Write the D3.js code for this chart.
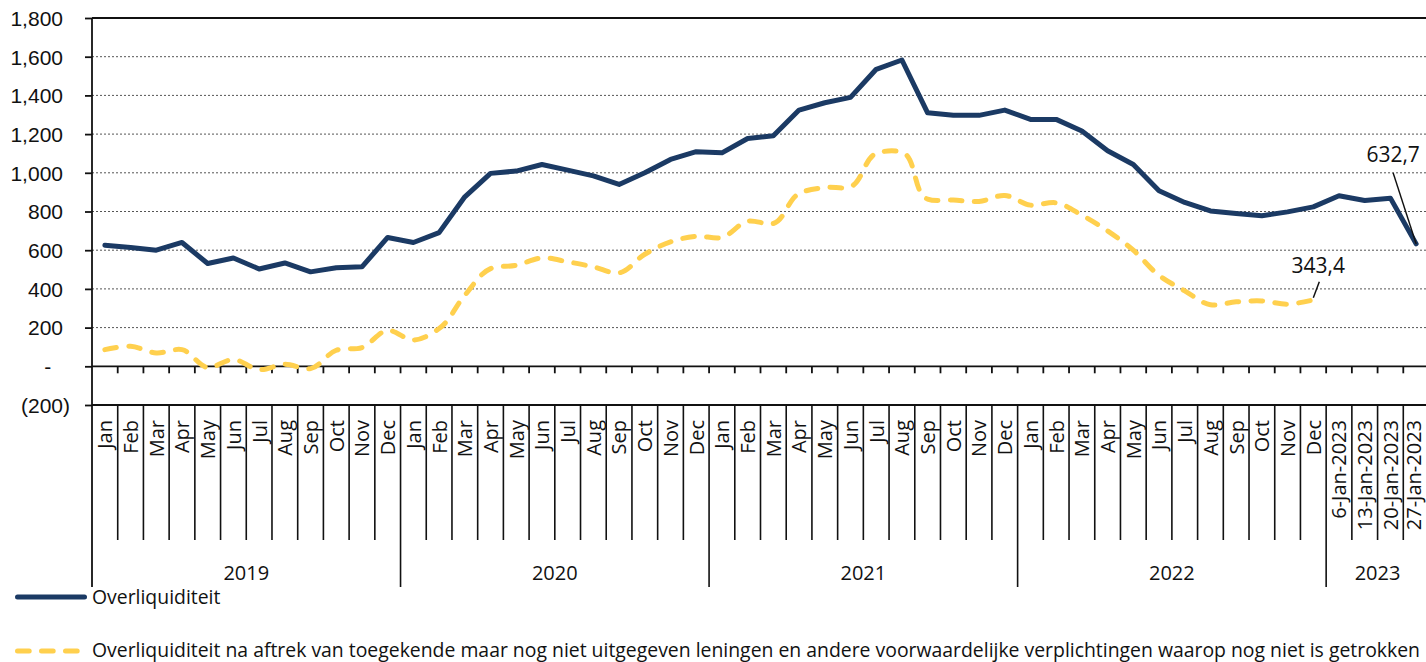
<!DOCTYPE html>
<html><head><meta charset="utf-8">
<script src="https://cdn.jsdelivr.net/npm/d3@7"></script>
<style>
body{margin:0;background:#fff;}
svg{display:block;font-family:"Open Sans",sans-serif;}
</style></head><body>
<svg id="c" width="1426" height="662"></svg>
<script>
// ---------- data ----------
const years = ["2019", "2020", "2021", "2022", "2023"];
const months = ["Jan","Feb","Mar","Apr","May","Jun","Jul","Aug","Sep","Oct","Nov","Dec"];
const weeks2023 = ["6-Jan-2023","13-Jan-2023","20-Jan-2023","27-Jan-2023"];
const seriesNames = [
  "Overliquiditeit",
  "Overliquiditeit na aftrek van toegekende maar nog niet uitgegeven leningen en andere voorwaardelijke verplichtingen waarop nog niet is getrokken"
];
// Overliquiditeit (monthly 2019-2022, weekly Jan 2023)
const overliq = [
  626, 614, 600, 640, 531, 560, 503, 534, 488, 509, 514, 666,
  640, 691, 876, 997, 1009, 1043, 1014, 984, 940, 1000, 1069, 1109,
  1103, 1177, 1191, 1324, 1362, 1390, 1535, 1583, 1310, 1297, 1297, 1324,
  1276, 1276, 1216, 1114, 1043, 907, 847, 803, 790, 778, 798, 824,
  881, 857, 869, 632.7
];
// Overliquiditeit na aftrek ... (monthly 2019-2022 only)
const overliqNet = [
  86, 103, 69, 86, -6, 35, -17, 10, -12, 83, 97, 186,
  136, 195, 367, 505, 522, 560, 540, 514, 483, 579, 643, 672,
  666, 750, 738, 893, 924, 928, 1100, 1107, 864, 859, 852, 883,
  833, 845, 781, 700, 600, 470, 390, 318, 333, 338, 321, 343.4,
  null, null, null, null
];
const yTicks = [-200, 0, 200, 400, 600, 800, 1000, 1200, 1400, 1600, 1800];
const annotations = [
  {series: 0, index: 51, text: "632,7"},
  {series: 1, index: 47, text: "343,4"}
];

// ---------- categories ----------
const cats = [];
years.forEach(yr => {
  const labs = yr === "2023" ? weeks2023 : months;
  labs.forEach(l => cats.push({year: yr, label: l, key: yr + "|" + l}));
});

const W = 1426, H = 662;
const svg = d3.select("#c");
svg.append("rect").attr("width", W).attr("height", H).attr("fill", "#fff");

const x = d3.scaleBand().domain(cats.map(d => d.key)).range([92, 1429]).padding(0);
const y = d3.scaleLinear().domain([-200, 1800]).range([405, 18]);
const bw = x.bandwidth();
const cx = i => x(cats[i].key) + bw / 2;

const BLUE = "#1b3a64", YELLOW = "#ffd04e";
const FS = 20;

// gridlines (dotted)
svg.append("g").selectAll("line")
  .data(yTicks.filter(v => v > 0 && v < 1800))
  .join("line")
  .attr("x1", 92).attr("x2", W).attr("y1", d => y(d)).attr("y2", d => y(d))
  .attr("stroke", "#555").attr("stroke-width", 1).attr("stroke-dasharray", "2,2");

// top border
svg.append("line").attr("x1", 92).attr("x2", W).attr("y1", y(1800)).attr("y2", y(1800))
  .attr("stroke", "#111").attr("stroke-width", 1.8);

// y axis
const fmt = d3.format(",");
const yAxis = d3.axisLeft(y).tickValues(yTicks).tickSize(7).tickPadding(3).tickFormat("");
const gy = svg.append("g").attr("transform", "translate(92,0)").call(yAxis);
gy.select(".domain").remove();
gy.selectAll(".tick line").attr("stroke", "#111").attr("stroke-width", 1.8);
gy.selectAll(".tick").each(function(v) {
  const t = d3.select(this).append("text")
    .attr("x", -22).attr("dy", "0.35em").attr("text-anchor", "end")
    .attr("fill", "#111").style("font-size", "21px");
  if (v > 0) {
    t.append("tspan").text(fmt(v));
    t.append("tspan").attr("fill-opacity", 0).text(")");
  } else if (v === 0) {
    t.append("tspan").text("-");
    t.append("tspan").attr("fill-opacity", 0).text("0)");
  } else {
    t.append("tspan").text("(" + fmt(-v) + ")");
  }
});
// left axis line extends through the category area
svg.append("line").attr("x1", 92).attr("x2", 92).attr("y1", y(1800)).attr("y2", 587)
  .attr("stroke", "#111").attr("stroke-width", 1.8);

// zero line with ticks
svg.append("line").attr("x1", 92).attr("x2", W).attr("y1", y(0)).attr("y2", y(0))
  .attr("stroke", "#111").attr("stroke-width", 1.8);
svg.append("g").selectAll("line").data(d3.range(1, cats.length + 1))
  .join("line")
  .attr("x1", i => 92 + i * bw).attr("x2", i => 92 + i * bw)
  .attr("y1", y(0)).attr("y2", y(0) + 7)
  .attr("stroke", "#111").attr("stroke-width", 1.8);

// bottom line (-200)
svg.append("line").attr("x1", 92).attr("x2", W).attr("y1", y(-200)).attr("y2", y(-200))
  .attr("stroke", "#111").attr("stroke-width", 1.8);

// category separators
svg.append("g").selectAll("line").data(d3.range(1, cats.length + 1))
  .join("line")
  .attr("x1", i => 92 + i * bw).attr("x2", i => 92 + i * bw)
  .attr("y1", y(-200))
  .attr("y2", i => (i === cats.length || cats[i].year !== cats[i - 1].year) ? 587 : 540)
  .attr("stroke", "#111").attr("stroke-width", 1.6);

// category labels (rotated)
svg.append("g").selectAll("text").data(cats)
  .join("text")
  .attr("transform", (d, i) => `translate(${Math.min(cx(i), 1414)},420) rotate(-90)`)
  .attr("text-anchor", "end").attr("dy", "0.37em")
  .attr("fill", "#111").style("font-size", FS + "px")
  .text(d => d.label);

// year labels
years.forEach(yr => {
  const idx = cats.map((d, i) => d.year === yr ? i : -1).filter(i => i >= 0);
  const x0 = x(cats[idx[0]].key), x1 = x(cats[idx[idx.length - 1]].key) + bw;
  svg.append("text").attr("x", (x0 + x1) / 2).attr("y", 580)
    .attr("text-anchor", "middle").attr("fill", "#111").style("font-size", FS + "px")
    .text(yr);
});

// series lines
const lineBlue = d3.line().defined(d => d != null).x((d, i) => cx(i)).y(d => y(d));
const lineYellow = d3.line().defined(d => d != null).x((d, i) => cx(i)).y(d => y(d))
  .curve(d3.curveCatmullRom.alpha(1));

svg.append("path").datum(overliqNet).attr("d", lineYellow)
  .attr("fill", "none").attr("stroke", YELLOW).attr("stroke-width", 5)
  .attr("stroke-linecap", "round").attr("stroke-dasharray", "11.7,12.3");
svg.append("path").datum(overliq).attr("d", lineBlue)
  .attr("fill", "none").attr("stroke", BLUE).attr("stroke-width", 5)
  .attr("stroke-linejoin", "round").attr("stroke-linecap", "round");

// annotations
const annoOffsets = [
  {tx: -23, ty: -82, lx1: -23, ly1: -71, lx2: 0, ly2: 0},
  {tx: 5, ty: -27, lx1: 6, ly1: -18, lx2: 0, ly2: -2}
];
annotations.forEach((a, k) => {
  const vals = a.series === 0 ? overliq : overliqNet;
  const px = cx(a.index), py = y(vals[a.index]);
  const o = annoOffsets[k];
  svg.append("line").attr("x1", px + o.lx1).attr("y1", py + o.ly1)
    .attr("x2", px + o.lx2).attr("y2", py + o.ly2)
    .attr("stroke", "#111").attr("stroke-width", 1.5);
  svg.append("text").attr("x", px + o.tx).attr("y", py + o.ty)
    .attr("text-anchor", "middle").attr("fill", "#111").style("font-size", "21px")
    .text(a.text);
});

// legend
const lg = svg.append("g");
lg.append("line").attr("x1", 17.5).attr("x2", 84.5).attr("y1", 597).attr("y2", 597)
  .attr("stroke", BLUE).attr("stroke-width", 5).attr("stroke-linecap", "round");
lg.append("text").attr("x", 92).attr("y", 604).attr("fill", "#111")
  .style("font-size", "19.4px").text(seriesNames[0]);
lg.append("line").attr("x1", 17.5).attr("x2", 78).attr("y1", 651).attr("y2", 651)
  .attr("stroke", YELLOW).attr("stroke-width", 5).attr("stroke-linecap", "round")
  .attr("stroke-dasharray", "11.7,12.3");
lg.append("text").attr("x", 92).attr("y", 657).attr("fill", "#111")
  .style("font-size", "19.4px").text(seriesNames[1]);
</script>
</body></html>
